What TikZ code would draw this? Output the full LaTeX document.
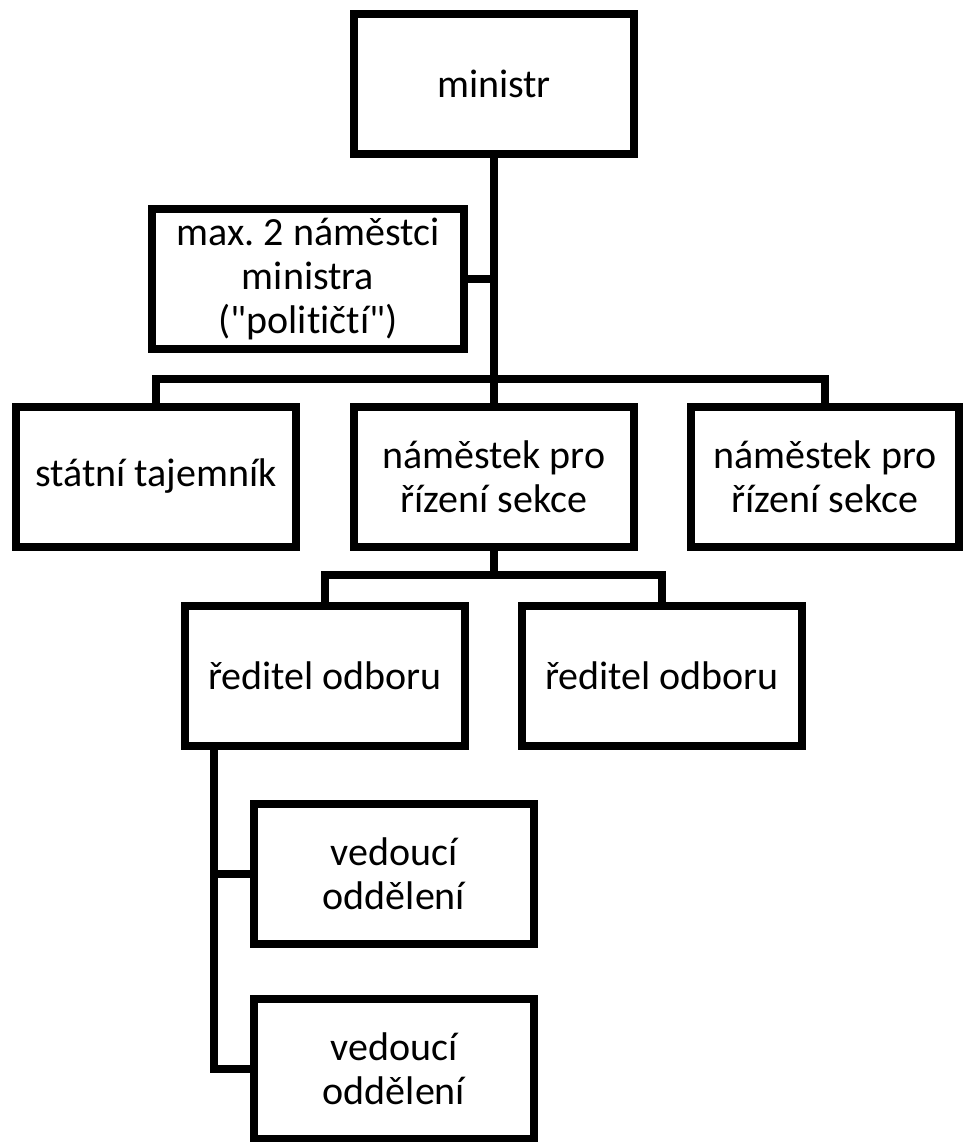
\documentclass[tikz,border=0pt]{standalone}
\usepackage{fontspec}
\setmainfont{Carlito}[Ligatures={TeXOff,NoCommon}]
\frenchspacing
\tikzset{
  unit/.style={draw, line width=6pt, minimum width=210pt, minimum height=105pt,
    align=center, inner sep=0pt, font=\fontsize{30}{33}\selectfont},
  link/.style={line width=6pt}
}
\begin{document}
\begin{tikzpicture}[x=0.75pt, y=-0.75pt]
        \useasboundingbox (0,0) rectangle (967,1142);

        % Boxes
        \node (ministr) [unit] at (494, 83.5) {ministr};
        \node (politici) [unit, minimum width=234pt] at (308, 279) {max. 2 náměstci\\ministra\\("političtí")};
        \node (tajemnik) [unit] at (156, 476.5) {státní tajemník};
        \node (sekceA) [unit] at (494, 476.5) {náměstek pro\\řízení sekce};
        \node (sekceB) [unit, minimum width=201pt] at (825, 476.5) {náměstek pro\\řízení sekce};
        \node (odborA) [unit] at (325, 676) {ředitel odboru};
        \node (odborB) [unit] at (662, 676) {ředitel odboru};
        \node (oddeleniA) [unit] at (394, 874) {vedoucí\\oddělení};
        \node (oddeleniB) [unit] at (394, 1068.5) {vedoucí\\oddělení};
        \coordinate (trunk) at (214, 750);

        % Edges
        \draw[link] (ministr) -- (sekceA);
        \draw[link] (politici.east) -- (politici.east -| ministr.south);
        \draw[link] (tajemnik.north) -- ++(0,-24) -| (sekceB.north);
        \draw[link] (sekceA.south) -- ++(0,24) coordinate (split);
        \draw[link] (odborA.north) |- (split) -| (odborB.north);
        \draw[link] (trunk) |- (oddeleniB.west);
        \draw[link] (oddeleniA.west) -- (oddeleniA.west -| trunk);

    \end{tikzpicture}
\end{document}
